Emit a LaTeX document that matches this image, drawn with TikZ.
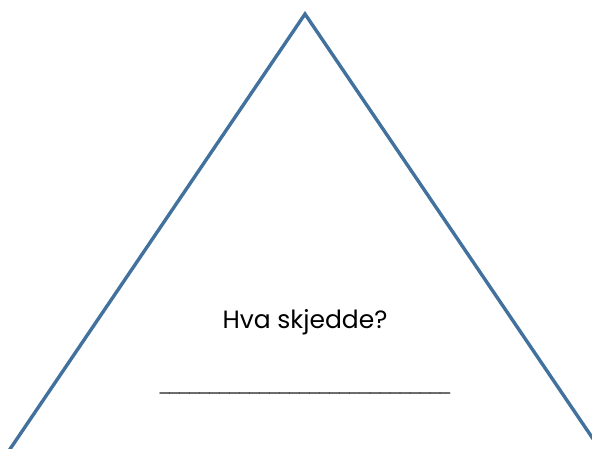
\documentclass[tikz,border=0pt]{standalone}
\usepackage{fontspec}
\setmainfont{Poppins}
\newfontfamily\ulfont{Liberation Sans}
\definecolor{tri}{HTML}{41719C}
\begin{document}
\begin{tikzpicture}[x=1pt,y=-1pt,
  edge/.style={draw=tri,line width=3.4pt,line join=miter},
  lbl/.style={font=\fontsize{25}{30}\selectfont,text=black,inner sep=0pt}]
\useasboundingbox (0,0) rectangle (592,449);
\clip (0,0) rectangle (592,449);
\coordinate (apex) at (305,14);
\coordinate (bl) at (-15,486);
\coordinate (br) at (625,486);
\draw[edge] (bl) -- (apex) -- (br);
\node[lbl] (q) at (305,322) {Hva skjedde?};
\node[inner sep=0pt,anchor=base,font=\ulfont\fontsize{18}{20}\selectfont] (u) at (305,390) {\_\_\_\_\_\_\_\_\_\_\_\_\_\_\_\_\_\_\_\_\_\_\_\_\_\_\_\_\_};
\end{tikzpicture}
\end{document}
